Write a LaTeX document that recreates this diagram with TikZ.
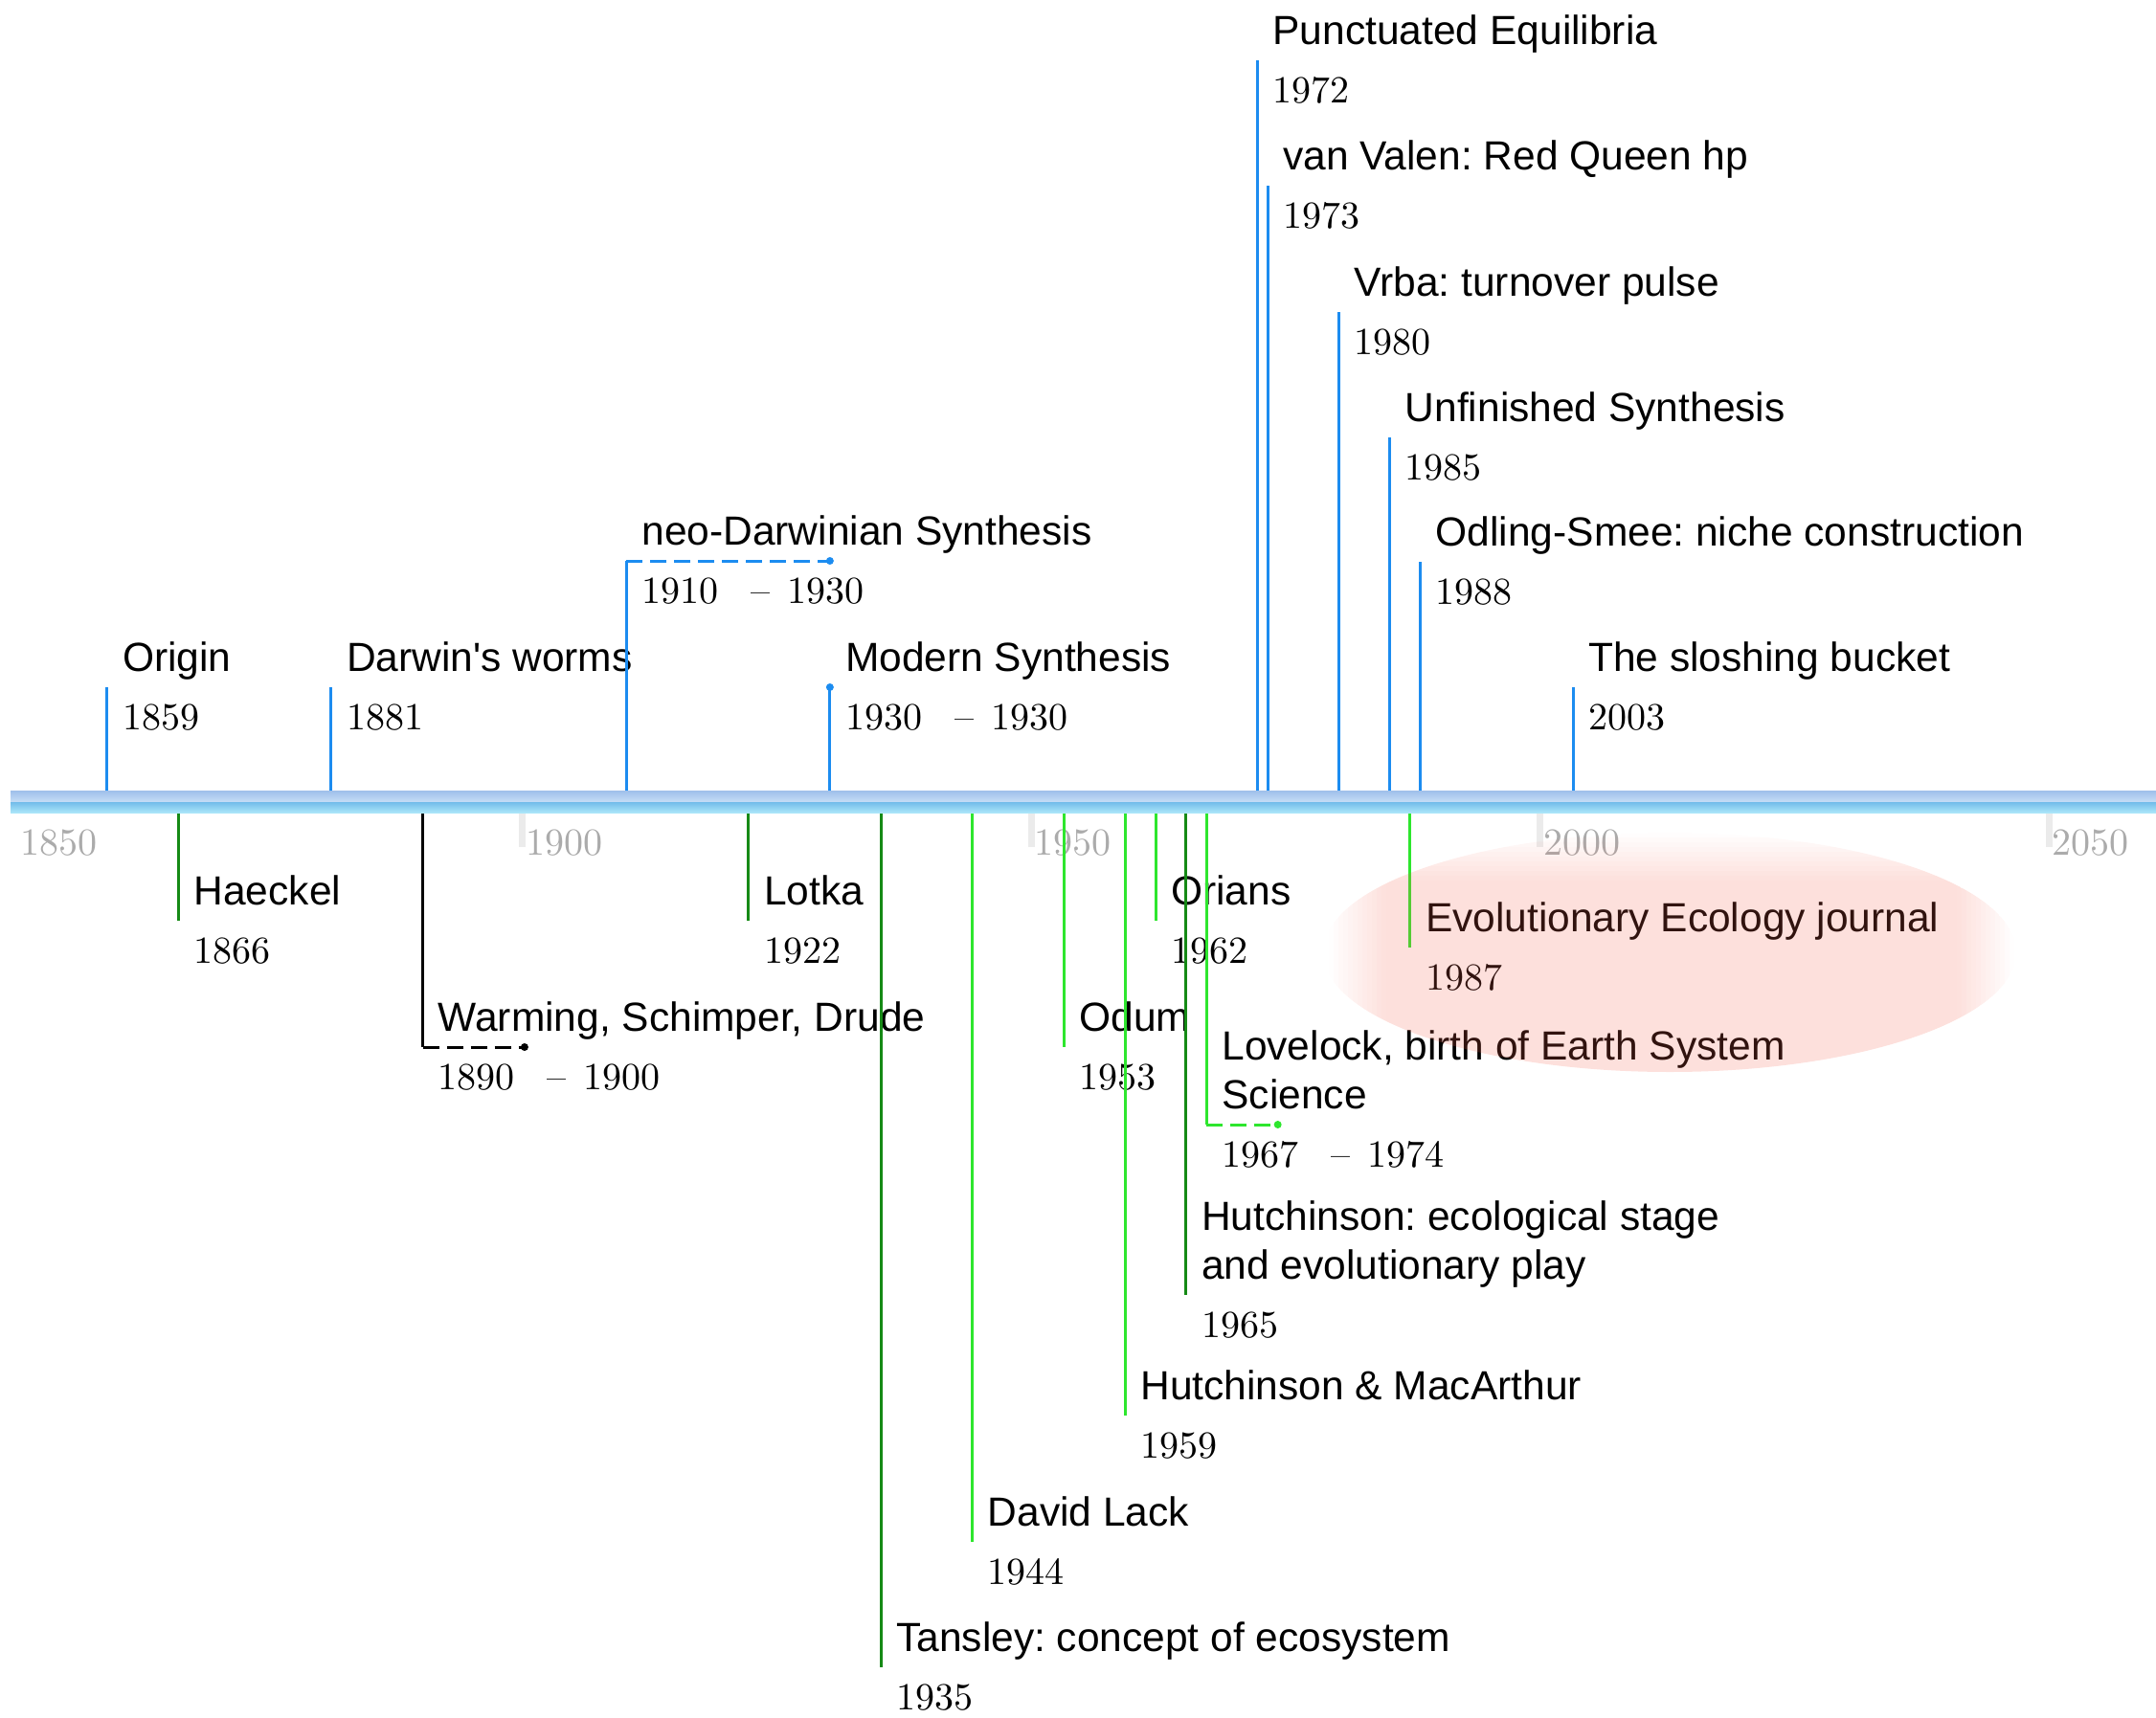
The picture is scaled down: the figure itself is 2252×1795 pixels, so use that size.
\documentclass[tikz,border=0pt]{standalone}
\usepackage{fontspec}
\newfontfamily\labelsans{Liberation Sans}
\newfontfamily\datefont{lmroman10-regular}[Extension=.otf]
\frenchspacing

\definecolor{evblue}{HTML}{1C8CF0}
\definecolor{evdark}{HTML}{168A16}
\definecolor{evlime}{HTML}{2EE62E}
\definecolor{ticktext}{HTML}{ABABAB}
\definecolor{tickbar}{HTML}{EBEBEB}
\definecolor{axtopA}{HTML}{9FBFEA}
\definecolor{axtopB}{HTML}{C6DEF6}
\definecolor{axbotA}{HTML}{72BCEA}
\definecolor{axbotB}{HTML}{ABE6F9}
\definecolor{highlight}{rgb}{0.96,0.39,0.31}

% one dated event: name, year, stem tip (y), stem style, label, date
\newcommand\tlevent[6]{%
  \coordinate (#1-axis) at ({yx(#2)},838);
  \coordinate (#1-tip) at ({yx(#2)},#3);
  \node[evlabel] (#1-label) at ({yx(#2)+16},{#3-16.6}) {#5};
  \node[evdate] (#1-date) at ({yx(#2)+16},{#3+44.6}) {#6};
  \draw[#4] (#1-axis) -- (#1-tip);
}
\newcommand\yearspan[2]{#1\hspace{0.85em}–\hspace{0.45em}#2}

\begin{document}
\begin{tikzpicture}[x=1pt,y=-1pt,
  declare function={yx(\q)=16.3+(\q-1850)*10.632;},
  evlabel/.style={anchor=base west, inner sep=0pt, align=left,
    font=\labelsans\fontsize{42.5}{51}\selectfont\frenchspacing},
  evdate/.style={anchor=base west, inner sep=0pt,
    font=\datefont\fontsize{40}{48}\selectfont},
  ticklbl/.style={anchor=base west, inner sep=0pt, text=ticktext,
    font=\datefont\fontsize{40}{48}\selectfont},
  bluestem/.style={draw=evblue, line width=3pt},
  darkstem/.style={draw=evdark, line width=3pt},
  limestem/.style={draw=evlime, line width=3pt},
  blackstem/.style={draw=black, line width=3pt},
  spanline/.style={line width=3pt, dash pattern=on 17pt off 8pt},
  glow/.style={fill=highlight, draw=none}]

\useasboundingbox (0,0) rectangle (2252,1795);

% year scale
\node[ticklbl] (tick-1850) at (21,893) {1850};
\foreach \t in {1900,1950,2000,2050}{
  \fill[tickbar] ({yx(\t)-6},849) rectangle ({yx(\t)+1},885);
  \node[ticklbl] (tick-\t) at ({yx(\t)+1},893) {\t};
}

% evolution (above the axis)
\tlevent{origin}{1859}{718}{bluestem}{Origin}{1859}
\tlevent{worms}{1881}{718}{bluestem}{Darwin's worms}{1881}
\tlevent{neodarwin}{1910}{586}{bluestem}{neo-Darwinian Synthesis}{\yearspan{1910}{1930}}
\coordinate (neodarwin-stop) at ({yx(1930)},586);
\draw[spanline, evblue] (neodarwin-tip) -- (neodarwin-stop);
\fill[evblue] (neodarwin-stop) circle (4);
\tlevent{modsyn}{1930}{718}{bluestem}{Modern Synthesis}{\yearspan{1930}{1930}}
\fill[evblue] (modsyn-tip) circle (4);
\tlevent{punct}{1972}{63}{bluestem}{Punctuated Equilibria}{1972}
\tlevent{redqueen}{1973}{194}{bluestem}{van Valen: Red Queen hp}{1973}
\tlevent{vrba}{1980}{326}{bluestem}{Vrba: turnover pulse}{1980}
\tlevent{unfinished}{1985}{457}{bluestem}{Unfinished Synthesis}{1985}
\tlevent{niche}{1988}{587}{bluestem}{Odling-Smee: niche construction}{1988}
\tlevent{bucket}{2003}{718}{bluestem}{The sloshing bucket}{2003}

% ecology (below the axis)
\tlevent{haeckel}{1866}{962}{darkstem}{Haeckel}{1866}
\tlevent{warming}{1890}{1094}{blackstem}{Warming, Schimper, Drude}{\yearspan{1890}{1900}}
\coordinate (warming-stop) at ({yx(1900)},1094);
\draw[spanline, black] (warming-tip) -- (warming-stop);
\fill[black] (warming-stop) circle (4);
\tlevent{lotka}{1922}{962}{darkstem}{Lotka}{1922}
\tlevent{tansley}{1935}{1742}{darkstem}{Tansley: concept of ecosystem}{1935}
\tlevent{lack}{1944}{1611}{limestem}{David Lack}{1944}
\tlevent{odum}{1953}{1094}{limestem}{Odum}{1953}
\tlevent{hutchmac}{1959}{1479}{limestem}{Hutchinson \& MacArthur}{1959}
\tlevent{orians}{1962}{962}{limestem}{Orians}{1962}
\tlevent{hutch}{1965}{1353}{darkstem}{Hutchinson: ecological stage\\and evolutionary play}{1965}
\tlevent{lovelock}{1967}{1175}{limestem}{Lovelock, birth of Earth System\\Science}{\yearspan{1967}{1974}}
\coordinate (lovelock-stop) at ({yx(1974)},1175);
\draw[spanline, evlime] (lovelock-tip) -- (lovelock-stop);
\fill[evlime] (lovelock-stop) circle (4);
\tlevent{evoeco}{1987}{990}{limestem}{Evolutionary Ecology journal}{1987}

% axis band
\shade[top color=axtopA, bottom color=axtopB] (11,826) rectangle (2252,838);
\shade[top color=axbotA, bottom color=axbotB] (11,838) rectangle (2252,849);

% translucent highlight over the journal entry, fading at its sides and top
\begin{scope}
  \clip (1744,995) ellipse [x radius=362, y radius=125];
  \fill[glow, fill opacity=0.2] (1448,920) rectangle (2044,1125);
  \foreach \k in {0,...,11}{
    \fill[glow, fill opacity={0.2*(\k+0.5)/12}]
      ({1388+5*\k},860) rectangle ({1393+5*\k},1125);
    \fill[glow, fill opacity={0.2*(\k+0.5)/12}]
      ({2104-5*\k-5},860) rectangle ({2104-5*\k},1125);
  }
  \foreach \k in {0,...,9}{
    \fill[glow, fill opacity={0.2*(\k+0.5)/10}]
      (1448,{870+5*\k}) rectangle (2044,{875+5*\k});
  }
\end{scope}
\end{tikzpicture}
\end{document}
